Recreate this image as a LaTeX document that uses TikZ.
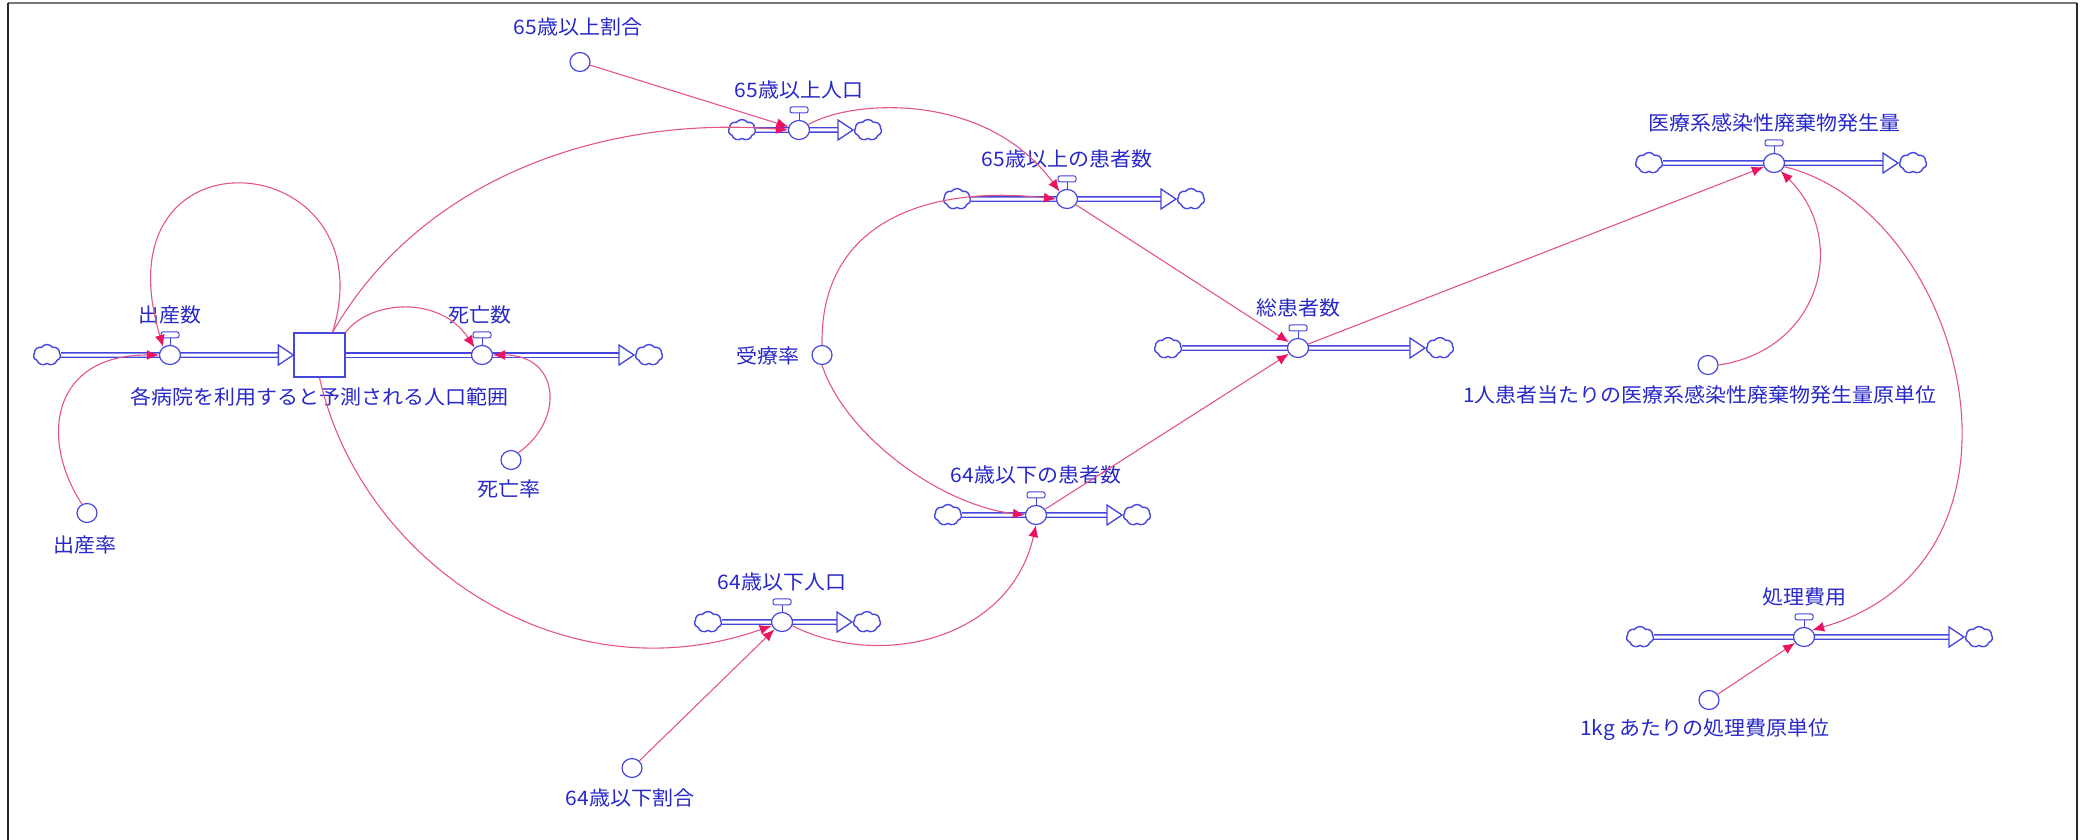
\documentclass[tikz,border=0pt]{standalone}
\usepackage{fontspec}
\newfontfamily\jp[FakeStretch=1.05]{Noto Sans CJK JP}
\usetikzlibrary{shapes.geometric,shapes.symbols,arrows.meta}
\definecolor{flowblue}{RGB}{70,70,220}
\definecolor{textblue}{RGB}{40,40,200}
\definecolor{connpink}{RGB}{228,85,135}
\definecolor{arrowmag}{RGB}{235,20,100}
\definecolor{framegray}{RGB}{120,120,120}
\definecolor{framedark}{RGB}{40,40,40}
\newcommand{\valvetop}[1]{%
  \draw[flowblue,line width=1pt] (#1.north) -- ++(0,-7);
  \draw[flowblue,line width=1pt,fill=white,rounded corners=2pt] ([shift={(-9pt,7pt)}]#1.north) rectangle ([shift={(9pt,13pt)}]#1.north);
}
\newcommand{\mkflow}[6]{% name, label, xsrc, xvalve, xtip, y
  \node[sky] (#1src) at (#3,#6) {};
  \node[sky] (#1snk) at ({#5+15},#6) {};
  \coordinate (#1tip) at (#5,#6);
  \draw[pipe] (#1src.east) -- ([xshift=-14pt]#1tip);
  \draw[head] (#1tip) -- ++(-15,-10) -- ++(0,20) -- cycle;
  \node[valve] (#1) at (#4,#6) {};
  \valvetop{#1}
  \node[lbl] (#1lbl) at (#4,{#6-40}) {#2};
}
\begin{document}
\begin{tikzpicture}[x=1pt,y=-1pt,
  lbl/.style={font=\jp\fontsize{20}{22}\selectfont, text=textblue, inner sep=0pt},
  valve/.style={ellipse, draw=flowblue, fill=white, line width=1.2pt, minimum width=21pt, minimum height=19pt, inner sep=0pt},
  aux/.style={ellipse, draw=flowblue, fill=white, line width=1.2pt, minimum width=20pt, minimum height=19pt, inner sep=0pt},
  sky/.style={cloud, cloud puffs=7, cloud puff arc=110, draw=flowblue, line width=1.4pt, minimum width=27pt, minimum height=21pt, inner sep=0pt, aspect=1.3},
  pipe/.style={draw=flowblue, line width=1.3pt, double=white, double distance=3pt},
  head/.style={draw=flowblue, fill=white, line width=1.3pt, line join=miter},
  conn/.style={draw=connpink, line width=1.1pt, -{Latex[length=12pt,width=10pt,color=arrowmag]}},
]
\useasboundingbox (0,0) rectangle (2092,840);
% frame
\draw[framegray,line width=2pt] (8,3) -- (2077,3);
\draw[framedark,line width=2pt] (8,840) -- (8,3);
\draw[framedark,line width=2pt] (2077,3) -- (2077,840);

% stock and its flows
\node[draw=flowblue, line width=1.3pt, fill=white, minimum width=51pt, minimum height=44pt, inner sep=0pt] (S) at (319.5,355) {};
\node[lbl] (Slbl) at (319,397) {各病院を利用すると予測される人口範囲};
% birth flow
\node[sky] (bsrc) at (47,355) {};
\draw[pipe] (bsrc.east) -- ([xshift=-14pt]S.west);
\draw[head] (S.west) -- ++(-15,-10) -- ++(0,20) -- cycle;
\node[valve] (vB) at (170,355) {};
\valvetop{vB}
\node[lbl] (vBlbl) at (170,315) {出産数};
% death flow
\coordinate (dtip) at (634,355);
\node[sky] (dsnk) at (649,355) {};
\draw[pipe] (S.east) -- ([xshift=-14pt]dtip);
\draw[head] (dtip) -- ++(-15,-10) -- ++(0,20) -- cycle;
\node[valve] (vD) at (482,355) {};
\valvetop{vD}
\node[lbl] (vDlbl) at (480,315) {死亡数};

% other flows
\mkflow{vS}{65歳以上人口}{742}{799}{853}{130}
\mkflow{vSp}{65歳以上の患者数}{957}{1067}{1176}{199}
\mkflow{vT}{総患者数}{1168}{1298}{1425}{348}
\mkflow{vYp}{64歳以下の患者数}{948}{1036}{1122}{515}
\mkflow{vY}{64歳以下人口}{708}{782}{852}{622}
\mkflow{vM}{医療系感染性廃棄物発生量}{1649}{1774}{1898}{163}
\mkflow{vP}{処理費用}{1640}{1804}{1964}{637}

% auxiliaries
\node[aux] (aBR) at (87,513) {};
\node[lbl] (aBRlbl) at (85,545) {出産率};
\node[aux] (aDR) at (511,460) {};
\node[lbl] (aDRlbl) at (509,489) {死亡率};
\node[aux] (aS) at (580,62) {};
\node[lbl] (aSlbl) at (578,27) {65歳以上割合};
\node[aux] (aJ) at (822,355) {};
\node[lbl, anchor=east] (aJlbl) at (800,356) {受療率};
\node[aux] (aY) at (632,768) {};
\node[lbl] (aYlbl) at (630,798) {64歳以下割合};
\node[aux] (aU) at (1708,365) {};
\node[lbl] (aUlbl) at (1700,395) {1人患者当たりの医療系感染性廃棄物発生量原単位};
\node[aux] (aK) at (1709,700) {};
\node[lbl] (aKlbl) at (1705,730) {1kg あたりの処理費原単位};

% connectors
\draw[conn] (aBR.120) .. controls (40,440) and (50,355) .. (vB.west);
\draw[conn] (S.60) .. controls (390,145) and (95,120) .. (vB.130);
\draw[conn] (S.60) .. controls (420,180) and (600,115) .. (vS.west);
\draw[conn] (S.north east) .. controls (370,300) and (440,295) .. (vD.135);
\draw[conn] (aDR.45) .. controls (565,420) and (560,355) .. (vD.east);
\draw[conn] (aS) -- (vS);
\draw[conn] (vS.30) .. controls (850,100) and (985,90) .. (vSp.135);
\draw[conn] (aJ.north) .. controls (820,220) and (930,185) .. (vSp.west);
\draw[conn] (aJ.south) .. controls (845,435) and (940,505) .. (vYp.west);
\draw[conn] (vSp) -- (vT);
\draw[conn] (vYp) -- (vT);
\draw[conn] (vT) -- (vM);
\draw[conn] (aU.east) .. controls (1820,350) and (1850,240) .. (vM.-50);
\draw[conn] (vM.-20) .. controls (1965,210) and (2055,560) .. (vP.40);
\draw[conn] (aK) -- (vP);
\draw[conn] (S.south) .. controls (360,560) and (560,700) .. (vY.200);
\draw[conn] (aY) -- (vY);
\draw[conn] (vY.-20) .. controls (880,670) and (1010,640) .. (vYp.south);
\end{tikzpicture}
\end{document}
